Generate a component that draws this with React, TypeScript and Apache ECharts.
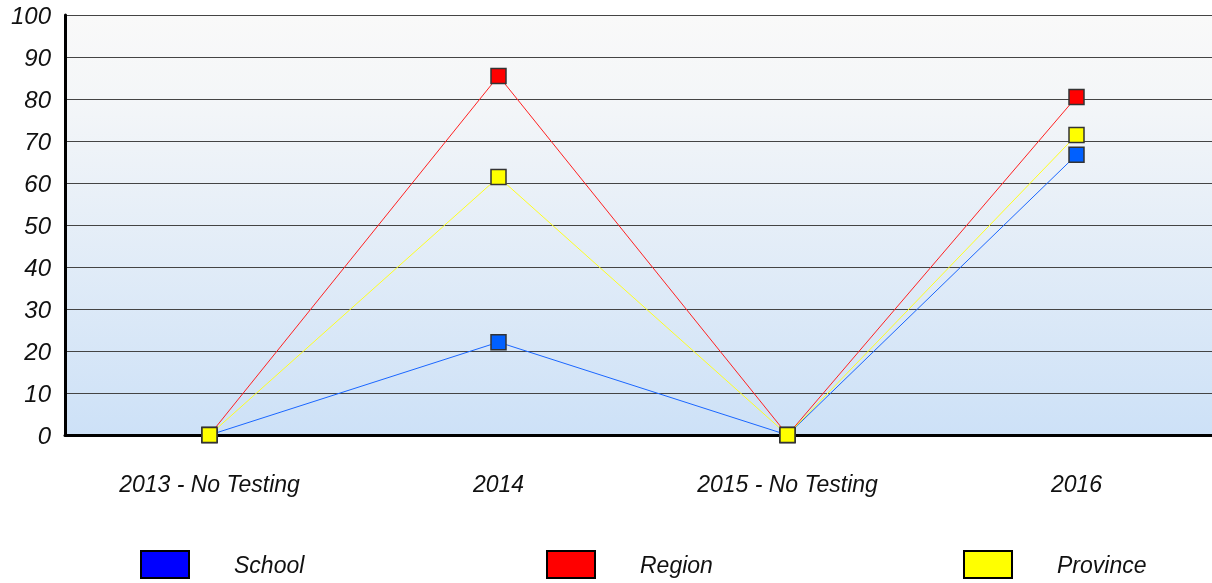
import React, { useEffect, useRef } from "react";
import * as echarts from "echarts";

const categories = ["2013 - No Testing", "2014", "2015 - No Testing", "2016"];
const schoolValues = [0, 22.1, 0, 66.7];
const regionValues = [0, 85.5, 0, 80.5];
const provinceValues = [0, 61.4, 0, 71.4];
const yTicks = [0, 10, 20, 30, 40, 50, 60, 70, 80, 90, 100];

const FONT = "Liberation Sans, Arial, sans-serif";

export default function App() {
  const ref = useRef<HTMLDivElement>(null);
  useEffect(() => {
    if (!ref.current) return;
    const chart = echarts.init(ref.current, null, { renderer: "svg" });
    const mkSeries = (name: string, data: number[], line: string, marker: string, z: number) => ({
      name,
      type: "line",
      data,
      z,
      symbol: "rect",
      symbolSize: 15,
      lineStyle: { color: line, width: 1 },
      itemStyle: { color: marker, borderColor: "#333", borderWidth: 1.5 },
    });
    const legendText = { fontFamily: FONT, fontSize: 23, fontStyle: "italic", color: "#111", padding: [0, 0, 0, 40] };
    const mkLegend = (name: string, color: string, left: number) => ({
      left,
      top: 550,
      padding: 0,
      itemWidth: 48,
      itemHeight: 27,
      icon: "rect",
      selectedMode: false,
      textStyle: legendText,
      data: [{ name, itemStyle: { color, borderColor: "#000", borderWidth: 2 } }],
    });
    chart.setOption({
      animation: false,
      grid: {
        left: 65,
        right: 0,
        top: 15,
        bottom: 148,
        show: true,
        borderWidth: 0,
        backgroundColor: new echarts.graphic.LinearGradient(0, 0, 0, 1, [
          { offset: 0, color: "#f9f9f9" },
          { offset: 0.2, color: "#f4f6f8" },
          { offset: 1, color: "#cde1f7" },
        ]),
      },
      legend: [
        mkLegend("School", "#0000ff", 140),
        mkLegend("Region", "#ff0000", 546),
        mkLegend("Province", "#ffff00", 963),
      ],
      xAxis: {
        type: "category",
        data: categories,
        boundaryGap: true,
        axisLine: { lineStyle: { color: "#000", width: 3 } },
        axisTick: { show: false },
        axisLabel: { fontFamily: FONT, fontSize: 23, fontStyle: "italic", color: "#111", margin: 37 },
      },
      yAxis: {
        type: "value",
        min: yTicks[0],
        max: yTicks[yTicks.length - 1],
        interval: 10,
        axisLine: { show: true, lineStyle: { color: "#000", width: 3 } },
        axisTick: { show: false },
        axisLabel: { fontFamily: FONT, fontSize: 24, fontStyle: "italic", color: "#111", margin: 14 },
        splitLine: { show: true, lineStyle: { color: "#444", width: 1 } },
      },
      series: [
        mkSeries("School", schoolValues, "#1a66ff", "#0060ff", 2),
        mkSeries("Region", regionValues, "#ff2020", "#ff0000", 3),
        mkSeries("Province", provinceValues, "#ffff20", "#ffff00", 4),
      ],
    });
    return () => chart.dispose();
  }, []);
  return <div ref={ref} style={{ position: "fixed", left: 0, top: 0, width: 1221, height: 583 }} />;
}
